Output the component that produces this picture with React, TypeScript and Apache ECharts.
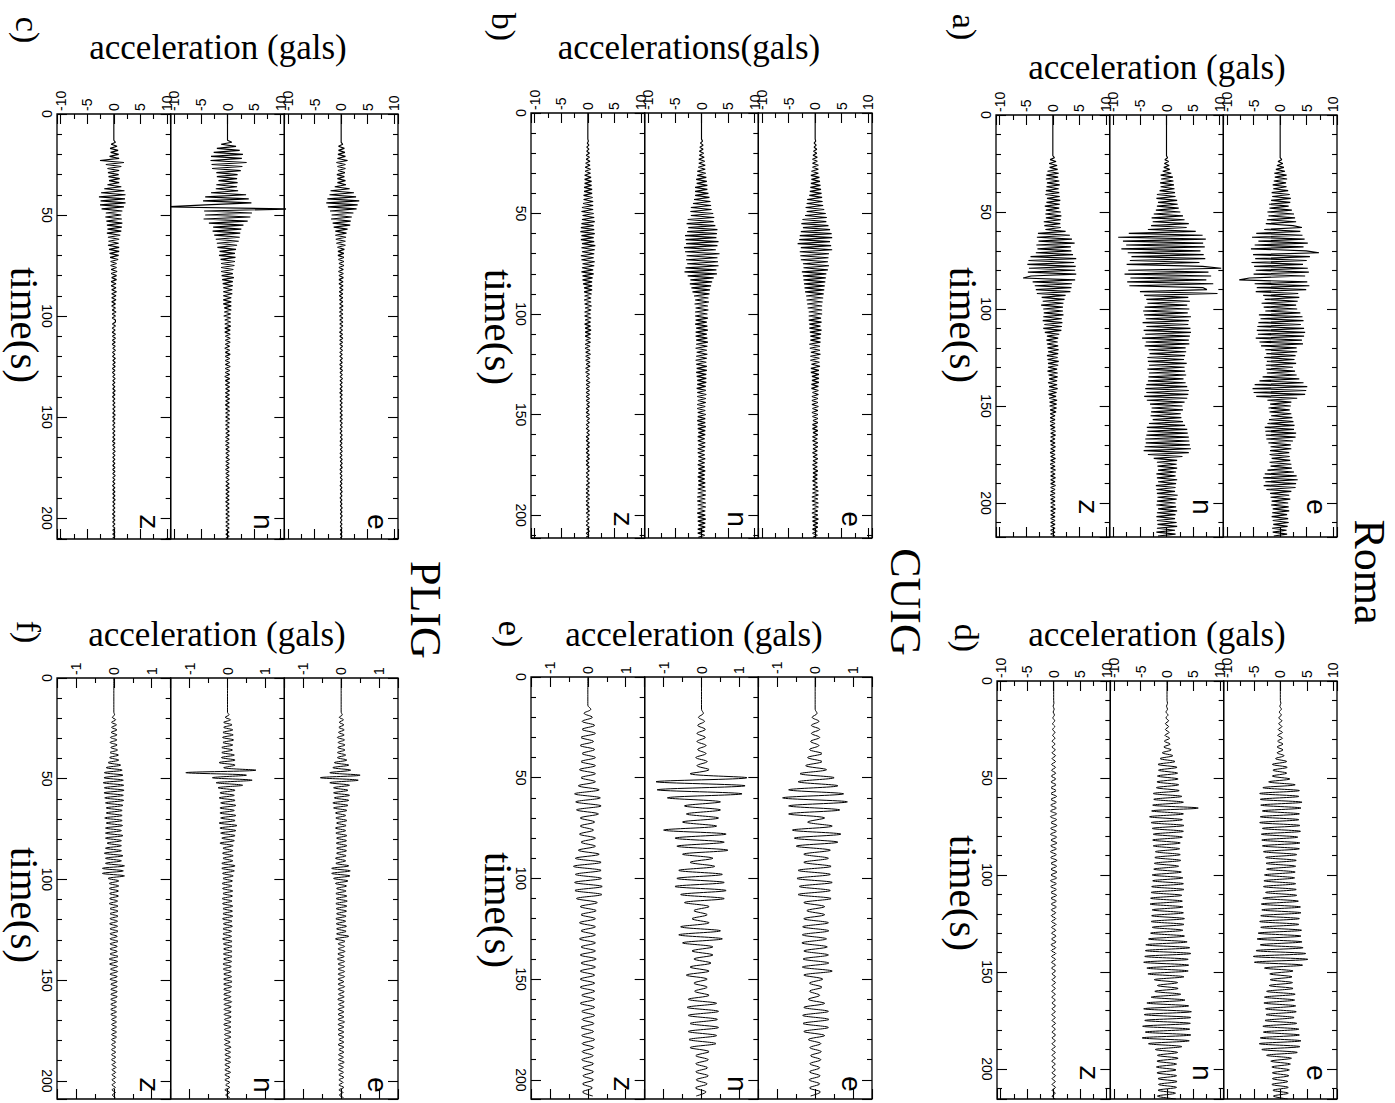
import React, { useEffect, useRef } from 'react';
import * as echarts from 'echarts';

// ---------------- labels / categories ----------------
const channels = ['z', 'n', 'e'];
const panelLetters = ['a)', 'b)', 'c)', 'd)', 'e)', 'f)'];
const panelTitles = ['acceleration (gals)', 'accelerations(gals)', 'acceleration (gals)', 'acceleration (gals)', 'acceleration (gals)', 'acceleration (gals)'];
const stations = ['Roma', 'CUIG', 'PLIG'];
const timeTickLabels = [0, 50, 100, 150, 200];
const accTickLabelsLarge = [-10, -5, 0, 5, 10];
const accTickLabelsSmall = [-1, 0, 1];

// axis ranges (time in s, acceleration in gals)
const timeMax = [217.5, 211.4, 210.4, 215.5, 209.5, 209];
const accMax = [10.7, 10.7, 10.7, 10.7, 1.5, 1.5];
const accMajor = [5, 5, 5, 5, 1, 1];

// onset time of each trace (z, n, e) and sample step (s)
const onsetA = [20, 20, 20];
const onsetB = [12, 12, 12];
const onsetC = [13, 13, 13];
const onsetD = [10, 10, 10];
const onsetE = [14, 16, 16];
const onsetF = [17, 17, 17];
const sampleSteps = [1, 1, 1, 1.5, 2, 1.25];

// ---------------- panel a (Roma) ----------------
const aE = [
0,0,0,0.3,-0.4,0.5,-0.6,0.7,-0.8,0.9,
-1.1,1.2,-1,1.3,-1.2,1.1,-1.4,1.2,-1.3,1.5,
-1.6,1.8,-1.5,2,-1.7,1.9,-2.1,1.6,-2,2.2,
-2.4,2.6,-2.2,2.8,-2.5,3,-2.7,2.4,4.1,-3,
3.8,-4.5,4.2,-5.3,4.6,-4.1,5.2,-4.8,4.4,-5.5,
4.9,7.3,-5.1,5.6,-4.7,5,-5.4,4.3,-4.9,5.2,
-4.6,5.4,-5,4.7,-5.8,-7.7,5.1,-4.8,5.5,-4.4,
4.9,-4.6,3.4,-3.2,3.6,-2.9,3.3,-3.5,3,-3.1,
3.2,-2.8,3.8,-4,4.2,-3.7,4.4,-4.1,3.9,-4.3,
4.5,-4.4,4.7,-4.2,4.5,-4.6,4.1,-3.9,4.3,-3.6,
3.1,-2.8,3.2,-2.6,2.9,-3,2.7,-2.5,3,-2.7,
2.4,-2.6,2.8,-2.5,3.1,-3.3,3.6,-3.9,4.4,-4.8,
5.1,-5.2,4.9,-5,4.7,-4.5,3.2,-2.4,2.1,-1.9,
2,-2.2,1.8,-2,2.1,-1.7,2.3,-2.1,2.5,-2.4,
2.7,-2.9,2.6,-2.8,3,-2.7,2.9,-2.6,2.4,-2.2,
2,-1.8,2.1,-1.9,1.7,-2,1.8,-1.6,1.9,-2,
2.1,-1.8,2.2,-2.4,2.6,-2.9,3.1,-3.2,3.3,-2.8,
3,-3.1,2.9,-2.6,2.1,-1.9,1.7,-1.8,1.9,-1.6,
1.5,-1.7,1.6,-1.4,1.7,-1.5,1.3,-1.6,1.5,-1.4,
1.6,-1.3,1.4,-1.5,1.2,-1.4,1.3,-1.2
];
const aN = [
0,0,0.2,-0.3,0.4,-0.4,0.5,-0.5,0.6,-0.7,
0.9,-1.1,1.2,-1,1.3,-1.2,1.4,-1.1,1.5,-1.3,
1.6,-1.8,1.7,-1.9,2,-1.6,2.1,-1.8,2.3,-2,
2.6,-2.4,3.1,-2.8,3.4,-2.6,4.2,-2.9,3.8,-3.5,
5.5,-7.1,6.8,-9.1,7.4,-8.2,6.9,-7.6,7.2,-8.5,
6.4,-7.3,7,-6.6,7.3,-6.9,6.2,-7.5,6.8,10.3,
-7.2,7.9,-7.9,8.4,-6.8,7.5,-7.4,8.8,-7,6.9,
7.6,-5,9.6,-4.2,4.1,-3.8,4.4,-3.6,3.9,-4.1,
4.3,-4.4,4,-4.2,4.6,-3.9,4.2,-4.5,4.1,-3.8,
4.5,-4.3,4.6,-4,4.4,-4.6,4.2,-3.9,4.3,-4.1,
3.6,-3.4,3.7,-3.2,3.5,-3.6,3.3,-3.5,3.8,-3.3,
3.4,-3.6,3.5,-3.3,3.7,-3.4,3.2,-3.5,3.6,-3.8,
3.9,-4,4.2,-3.8,4.1,-4.2,3.9,-3.7,3.4,-3.1,
3,-2.8,3.1,-2.9,2.7,-3,2.8,-2.6,3.1,-3.3,
3.5,-3.7,3.9,-3.6,4,-3.8,4.2,-4,4.3,-3.9,
4.4,-4.1,4.6,-4.3,4.2,-3.5,3,-2.4,2,-1.8,
1.9,-1.7,2,-1.6,1.8,-1.9,1.7,-1.8,2,-1.6,
1.8,-2,1.7,-1.9,1.6,-1.8,2.1,-1.7,1.9,-1.8,
1.7,-1.9,1.8,-1.6,2,-1.8,1.7,-1.9,1.6,-1.8,
1.9,-1.7,2,-1.8,1.6,-1.9,1.7,-1.6
];
const aZ = [
0,0,0.3,-0.5,0.6,-0.7,0.8,-0.6,0.9,-1,
1.1,-1.2,1,-1.3,1.2,-1.1,1.3,-1.2,1.1,-1.3,
1.2,-1.4,1.3,-1.1,1.4,-1.2,1.3,-1.5,1.2,-1.3,
1.5,-1.4,1.6,-1.3,1.5,-1.7,1.4,-1.6,1.5,-1.4,
2.4,-2.8,3.2,-3,3.6,-2.7,4.1,-3.1,3.4,-2.9,
3.5,-3.2,3.8,-4.2,4.4,-4.6,4,-4.8,4.3,-4.5,
4.2,-4.7,4.4,-4.1,-5.6,4.2,-3.8,3.6,-3.4,3.5,
-3.2,3.3,-3,2.4,-2.1,2.2,-1.9,2,-2.2,1.9,
-1.8,1.9,-1.7,2,-1.8,1.7,-1.9,1.8,-1.6,1.7,
-1.8,1.6,-1.5,1.2,-1.1,1,-1.2,0.9,-1.1,1,
-1,1.1,-0.9,1,-1.1,0.9,-1,1.1,-0.9,1,
-0.9,0.8,-1,0.9,-0.8,0.9,-0.7,0.8,-0.9,0.8,
-0.7,0.9,-0.8,0.7,-0.8,0.6,-0.7,0.8,-0.6,0.7,
-0.6,0.7,-0.5,0.6,-0.5,0.4,-0.5,0.4,-0.5,0.4,
-0.5,0.4,-0.4,0.5,-0.4,0.5,-0.4,0.4,-0.5,0.4,
-0.4,0.5,-0.4,0.4,-0.5,0.4,-0.4,0.5,-0.4,0.4,
-0.5,0.4,-0.4,0.5,-0.4,0.4,-0.4,0.5,-0.4,0.4,
-0.4,0.5,-0.4,0.4,-0.4,0.4,-0.5,0.4,-0.4,0.4,
-0.4,0.4,-0.4,0.5,-0.4,0.4,-0.4,0.4,-0.4,0.4,
-0.4,0.4,-0.4,0.4,-0.4,0.4,-0.4,0.4
];

// ---------------- panel b (CUIG) ----------------
const bE = [
0,0,0.1,-0.2,0.2,-0.2,0.3,-0.3,0.3,-0.4,
0.4,-0.5,0.4,-0.5,0.6,-0.5,0.6,-0.7,0.6,-0.8,
0.8,-0.7,0.9,-0.8,1,-0.9,1.1,-1,1.2,-1.1,
1.3,-1.5,1.4,-1.6,1.5,-1.8,1.7,-1.6,2,-1.9,
2.2,-2.4,2.1,-2.6,2.5,-2.3,2.8,-2.7,3.1,-2.9,
3.2,-3,2.8,-3.3,3,-2.7,3.2,-2.9,2.6,-2.8,
2.5,-2.7,2.4,-2.3,2.6,-2.2,2.4,-2.5,2.1,-2.3,
2,-2.2,1.9,-2.1,1.8,-2,1.7,-1.9,1.6,-1.7,
1.5,-1.6,1.4,-1.5,1.3,-1.4,1.3,-1.2,1.3,-1.2,
1.1,-1.2,1.2,-1.1,1,-1.1,1.2,-1,1.1,-0.9,
1,-0.9,1,-1.1,0.9,-1,0.9,-0.8,1,-0.9,
0.8,-0.9,0.8,-0.7,0.9,-0.8,0.7,-0.8,0.7,-0.6,
0.7,-0.6,0.7,-0.7,0.6,-0.7,0.6,-0.5,0.6,-0.6,
0.5,-0.6,0.5,-0.6,0.6,-0.5,0.5,-0.6,0.5,-0.5,
0.5,-0.4,0.5,-0.5,0.4,-0.5,0.5,-0.4,0.5,-0.5,
0.4,-0.5,0.5,-0.4,0.5,-0.4,0.4,-0.5,0.4,-0.4,
0.5,-0.4,0.4,-0.5,0.4,-0.4,0.5,-0.4,0.4,-0.4,
0.4,-0.5,0.4,-0.4,0.5,-0.5,0.6,-0.5,0.6,-0.6,
0.5,-0.6,0.6,-0.5,0.6,-0.5,0.5,-0.6,0.5,-0.5,
0.6,-0.5,0.5,-0.4,0.5,-0.5,0.4,-0.5,0.4,-0.4
];
const bN = [
0,0,0.2,-0.2,0.3,-0.3,0.3,-0.4,0.4,-0.4,
0.5,-0.5,0.6,-0.5,0.7,-0.6,0.7,-0.8,0.8,-0.8,
0.9,-1,1,-0.9,1.1,-1.2,1.1,-1.2,1.3,-1.2,
1.5,-1.4,1.7,-1.6,1.8,-2,1.9,-2.1,2.2,-2,
2.4,-2.6,2.3,-2.8,2.6,-2.5,3,-2.7,2.9,-3.1,
2.8,-3,3.2,-2.9,3,-3.3,2.7,-3.1,3.4,-2.8,
3,-2.9,3.1,-2.7,3.2,-3,2.8,-3.2,2.9,-2.6,
2.3,-2.1,2,-2.2,1.8,-1.9,1.6,-1.7,1.5,-1.4,
1.3,-1.2,1.4,-1.3,1.2,-1.1,1.3,-1.2,1.1,-1.2,
1.2,-1.1,1,-1.2,1.1,-1,1.2,-1.1,1,-1.1,
1.1,-1,1.2,-1,1.1,-1.1,1,-0.9,1.1,-1,
1,-1.1,0.9,-1,1,-0.9,1,-1,0.9,-0.9,
0.9,-0.8,0.9,-0.8,0.8,-0.9,0.8,-0.8,0.9,-0.8,
0.8,-0.7,0.8,-0.8,0.7,-0.8,0.7,-0.7,0.8,-0.7,
0.7,-0.8,0.7,-0.7,0.8,-0.7,0.7,-0.6,0.7,-0.7,
0.6,-0.7,0.7,-0.6,0.7,-0.7,0.6,-0.7,0.6,-0.6,
0.7,-0.6,0.6,-0.7,0.6,-0.6,0.7,-0.6,0.6,-0.7,
0.6,-0.6,0.7,-0.6,0.7,-0.7,0.8,-0.7,0.8,-0.8,
0.7,-0.8,0.8,-0.7,0.8,-0.7,0.7,-0.8,0.7,-0.7,
0.8,-0.7,0.7,-0.6,0.7,-0.7,0.6,-0.7,0.6,-0.6
];
const bZ = [
0,0,0.1,-0.1,0.2,-0.2,0.2,-0.2,0.3,-0.3,
0.3,-0.3,0.4,-0.4,0.4,-0.5,0.5,-0.5,0.5,-0.6,
0.6,-0.6,0.7,-0.6,0.7,-0.7,0.8,-0.7,0.8,-0.8,
0.9,-0.8,1,-0.9,1,-1.1,1,-1.2,1.1,-1,
1.2,-1.1,1.3,-1.2,1.1,-1.3,1.2,-1.4,1.3,-1.2,
1.1,-1.3,1.2,-1.1,1.4,-1.2,1.3,-1.1,1.2,-1.3,
1.1,-1.2,1.3,-1,1.2,-1.1,1,-1.2,1.1,-1,
0.9,-1,0.8,-0.9,0.8,-0.7,0.8,-0.7,0.7,-0.6,
0.6,-0.7,0.6,-0.6,0.7,-0.5,0.6,-0.6,0.5,-0.6,
0.6,-0.5,0.5,-0.6,0.5,-0.5,0.6,-0.5,0.5,-0.5,
0.5,-0.4,0.5,-0.5,0.4,-0.5,0.4,-0.4,0.5,-0.4,
0.4,-0.4,0.4,-0.3,0.4,-0.4,0.3,-0.4,0.3,-0.3,
0.3,-0.3,0.4,-0.3,0.3,-0.3,0.3,-0.3,0.3,-0.3,
0.3,-0.3,0.3,-0.2,0.3,-0.3,0.2,-0.3,0.3,-0.3,
0.3,-0.2,0.3,-0.3,0.2,-0.3,0.3,-0.2,0.3,-0.3,
0.2,-0.3,0.3,-0.2,0.3,-0.3,0.2,-0.3,0.3,-0.2,
0.3,-0.3,0.2,-0.3,0.3,-0.2,0.3,-0.3,0.2,-0.3,
0.3,-0.2,0.3,-0.3,0.3,-0.3,0.2,-0.3,0.3,-0.3,
0.3,-0.3,0.2,-0.3,0.3,-0.2,0.3,-0.3,0.3,-0.2,
0.3,-0.3,0.2,-0.3,0.3,-0.2,0.3,-0.3,0.2,-0.3
];

// ---------------- panel c (PLIG) ----------------
const cZ = [
0,0.3,-0.5,0.6,-0.7,0.8,-0.6,0.9,-0.8,1,
-2.6,1.9,-1.5,1.4,-1.2,1,-1.1,0.9,-1,1.1,
-0.9,1,-1.2,1.4,-1.8,2,-2.4,2.2,-2.8,2.1,
-2.5,2.2,-2.6,1.9,-2.3,1.6,-1.5,1.4,-1.6,1.5,
-1.4,1.6,-1.3,1.5,-1.2,1.4,-1.3,1.2,-1.1,1,
-1,0.9,-1.1,1,-0.9,1,-0.8,0.9,-0.7,0.8,
-0.6,0.5,-0.6,0.5,-0.5,0.6,-0.5,0.5,-0.4,0.5,
-0.5,0.4,-0.5,0.4,-0.4,0.5,-0.4,0.4,-0.4,0.4,
-0.4,0.3,-0.4,0.3,-0.3,0.4,-0.3,0.3,-0.3,0.3,
0.3,-0.25,0.3,-0.3,0.25,-0.3,0.3,-0.25,0.3,-0.25,
0.25,-0.3,0.25,-0.2,0.3,-0.25,0.2,-0.25,0.3,-0.2,
0.25,-0.2,0.25,-0.25,0.2,-0.25,0.2,-0.2,0.25,-0.2,
0.2,-0.25,0.2,-0.2,0.25,-0.2,0.2,-0.25,0.2,-0.2,
0.2,-0.2,0.25,-0.2,0.2,-0.2,0.25,-0.2,0.2,-0.2,
0.2,-0.2,0.2,-0.25,0.2,-0.2,0.2,-0.2,0.2,-0.25,
0.2,-0.2,0.2,-0.2,0.25,-0.2,0.2,-0.2,0.2,-0.2,
0.2,-0.2,0.2,-0.2,0.2,-0.2,0.25,-0.2,0.2,-0.2,
0.2,-0.25,0.2,-0.2,0.2,-0.2,0.2,-0.2,0.25,-0.2,
0.2,-0.2,0.2,-0.2,0.2,-0.25,0.2,-0.2,0.2,-0.2,
0.2,-0.2,0.2,-0.2,0.2,-0.2,0.2,-0.2
];
const cN = [
0,0.8,-1.2,1.6,-2,2.3,-2.6,2.9,-3.1,2.7,
-3.2,3.6,-3,2.8,-2.9,2.5,-2.1,1.9,-2,1.8,
-1.7,1.9,-2.1,1.8,-2.2,2,-3.1,3.5,-4.2,4,
-4.6,4.5,-4.1,-12,12,-4.4,4.6,-4.2,4.3,-4.5,
3.8,-3.5,3,-2.7,2.6,-2.8,2.4,-2.5,2.3,-2.2,
2.1,-2,1.8,-1.9,1.6,-1.5,1.4,-1.6,1.5,-1.3,
1.4,-1.2,1.3,-1.2,1.1,-1.2,1,-1.1,1.2,-1,
1,-0.9,1,-0.8,0.9,-0.8,0.9,-0.8,0.7,-0.8,
0.7,-0.8,0.7,-0.6,0.7,-0.6,0.6,-0.7,0.6,-0.5,
0.6,-0.5,0.6,-0.5,0.5,-0.5,0.5,-0.4,0.5,-0.4,
0.5,-0.4,0.4,-0.5,0.4,-0.4,0.5,-0.4,0.4,-0.4,
0.4,-0.4,0.5,-0.4,0.4,-0.4,0.4,-0.5,0.4,-0.4,
0.4,-0.4,0.4,-0.35,0.4,-0.4,0.35,-0.4,0.4,-0.35,
0.35,-0.4,0.35,-0.35,0.4,-0.35,0.35,-0.35,0.4,-0.35,
0.35,-0.35,0.3,-0.35,0.35,-0.3,0.35,-0.35,0.3,-0.35,
0.3,-0.35,0.3,-0.3,0.35,-0.3,0.3,-0.3,0.35,-0.3,
0.3,-0.3,0.3,-0.35,0.3,-0.3,0.3,-0.3,0.3,-0.3,
0.3,-0.3,0.35,-0.3,0.3,-0.3,0.3,-0.3,0.3,-0.35,
0.3,-0.3,0.3,-0.3,0.3,-0.3,0.35,-0.3,0.3,-0.3,
0.3,-0.3,0.3,-0.3,0.3,-0.3,0.3,-0.3
];
const cE = [
0,0,0.3,-0.5,0.6,-0.5,0.7,-0.6,0.8,-0.7,
1.2,-0.9,0.8,-0.7,0.8,-0.6,0.7,-0.8,0.6,-0.7,
0.8,-0.7,0.9,-1.2,1.6,-2,2.4,-2.2,2.8,-2.6,
3.4,-2.8,3.1,-2.5,2.9,-2.1,2.3,-1.8,2,-1.9,
1.8,-1.6,1.7,-1.4,1.2,-1.1,1,-1.1,0.9,-1,
0.8,-0.9,0.8,-0.7,0.6,-0.6,0.5,-0.6,0.5,-0.5,
0.5,-0.4,0.5,-0.4,0.4,-0.5,0.4,-0.4,0.4,-0.4,
0.35,-0.4,0.35,-0.3,0.35,-0.35,0.3,-0.35,0.3,-0.3,
0.3,-0.3,0.35,-0.3,0.3,-0.3,0.3,-0.3,0.3,-0.25,
0.3,-0.25,0.3,-0.25,0.25,-0.3,0.25,-0.25,0.3,-0.25,
0.25,-0.25,0.25,-0.2,0.25,-0.25,0.2,-0.25,0.25,-0.2,
0.2,-0.25,0.2,-0.2,0.25,-0.2,0.2,-0.2,0.25,-0.2,
0.2,-0.2,0.2,-0.2,0.2,-0.25,0.2,-0.2,0.2,-0.2,
0.2,-0.2,0.2,-0.2,0.2,-0.2,0.2,-0.2,0.2,-0.2,
0.2,-0.15,0.2,-0.2,0.15,-0.2,0.2,-0.15,0.2,-0.2,
0.15,-0.2,0.2,-0.15,0.2,-0.2,0.15,-0.2,0.2,-0.15,
0.2,-0.15,0.2,-0.2,0.15,-0.2,0.15,-0.15,0.2,-0.15,
0.15,-0.2,0.15,-0.15,0.2,-0.15,0.15,-0.2,0.15,-0.15,
0.15,-0.15,0.2,-0.15,0.15,-0.15,0.2,-0.15,0.15,-0.15,
0.15,-0.15,0.15,-0.15,0.15,-0.15,0.15,-0.15
];

// ---------------- panel d (Roma, filtered) ----------------
const dE = [
0,0.1,-0.1,0.2,-0.2,0.2,-0.3,0.3,-0.3,0.3,
-0.4,0.4,-0.5,0.4,-0.5,0.5,-0.6,0.5,-0.6,0.7,
-0.9,1.2,-1.5,1.3,-1.4,1.2,-1.5,1.8,-2.2,2.8,
-3.3,3.6,-3.9,3.5,-3.8,4.1,-3.7,3.9,-3.4,3.6,
-3.8,3.5,-3.9,3.7,-3.4,3.8,-3.6,3.3,-3.5,3.7,
-3.4,3.6,-3.2,3.1,-2.8,3,-2.7,2.9,-2.6,2.8,
-3,2.7,-3.1,2.9,-3.2,3,-2.8,3.1,-3.3,3.4,
-3.6,3.8,-3.5,3.9,-3.7,3.6,-3.9,3.5,-3.7,4,
-4.2,3.9,-4.4,4.1,-3.8,4.3,-4.6,4.8,-5.1,5.2,
-4.9,4.2,-3,2.4,-2,2.2,-1.9,2.3,-2.1,2.4,
-2.6,2.8,-3,2.7,-3.1,2.9,-2.8,3,-2.7,2.6,
-2.9,3.1,-3.3,3.5,-3.2,3.6,-3.8,3.9,-4,3.7,
-3.5,3.2,-2.6,2.1,-1.8,1.9,-1.6,1.7,-1.5,1.6,
-1.5,1.4,-1.6,1.5,-1.4,1.5,-1.3,1.4
];
const dN = [
0,0.1,-0.1,0.1,-0.2,0.2,-0.2,0.3,-0.3,0.3,
-0.3,0.4,-0.4,0.5,-0.5,0.6,-0.6,0.8,-0.9,1.1,
-1.3,1.5,-1.7,1.9,-1.6,2,-1.8,2.1,-1.9,2.2,
-2,2.3,-2.6,2.8,-2.5,3.1,-2.7,5.9,-2.9,3.1,
-3.3,2.9,-3,3.2,-2.8,3.1,-2.6,2.9,-2.7,2.5,
-2.6,2.4,-2.2,2.5,-2.3,2.6,-2.4,2.2,-2.5,2.7,
-2.8,3,-2.7,3.1,-2.9,3.2,-3,2.8,-3.1,2.9,
-3.2,3,-2.8,3.1,-2.9,3.3,-3,3.2,-2.8,3,
-3.1,3.3,-3.5,3.8,-4,4.3,-4.1,4.5,-4.2,4,
-4.4,4.1,-3.8,4,-3.6,3.2,-2.4,2,-1.8,2.1,
-2.3,2.6,-3,3.4,-3.8,4.1,-4.4,4.6,-4.3,4.5,
-4.2,4.4,-4.6,4.3,-4.1,4.5,-4.7,4.2,-3.5,2.8,
-2.2,2,-1.8,2.1,-1.9,1.8,-2,1.7,-1.9,1.8,
-1.7,1.9,-1.6,1.8,-1.7,1.6,-1.8,1.7
];
const dZ = [
0,0.05,-0.1,0.1,-0.1,0.15,-0.15,0.2,-0.2,0.2,
-0.2,0.25,-0.2,0.25,-0.3,0.25,-0.3,0.3,-0.3,0.35,
-0.3,0.35,-0.4,0.35,-0.4,0.4,-0.45,0.4,-0.5,0.45,
-0.5,0.45,-0.5,0.55,-0.5,0.5,-0.55,0.5,-0.6,0.55,
-0.6,0.55,-0.5,0.6,-0.55,0.5,-0.6,0.55,-0.5,0.6,
-0.55,0.5,-0.6,0.5,-0.55,0.6,-0.5,0.55,-0.5,0.6,
-0.5,0.55,-0.6,0.5,-0.55,0.5,-0.5,0.55,-0.5,0.5,
-0.45,0.5,-0.45,0.4,-0.45,0.4,-0.4,0.45,-0.4,0.4,
-0.4,0.45,-0.4,0.45,-0.5,0.4,-0.45,0.4,-0.4,0.35,
-0.4,0.35,-0.4,0.35,-0.3,0.35,-0.3,0.35,-0.3,0.3,
-0.35,0.3,-0.35,0.3,-0.3,0.35,-0.3,0.3,-0.35,0.3,
-0.3,0.35,-0.3,0.3,-0.3,0.35,-0.3,0.3,-0.3,0.3,
-0.35,0.3,-0.3,0.3,-0.35,0.3,-0.3,0.3,-0.3,0.35,
-0.3,0.3,-0.3,0.35,-0.3,0.3,-0.3,0.3
];

// ---------------- panel e (CUIG, filtered) ----------------
const eE = [
0,0.05,-0.08,0.1,-0.1,0.12,-0.1,0.12,-0.12,0.1,
-0.15,0.18,-0.2,0.18,-0.25,0.3,-0.4,0.5,-0.45,0.6,
-0.7,0.75,-0.86,0.85,-0.7,0.65,-0.7,0.25,-0.2,0.45,
-0.6,0.68,-0.55,0.6,-0.5,0.4,-0.3,0.35,-0.3,0.42,
-0.45,0.4,-0.48,0.45,-0.42,0.4,-0.45,0.42,-0.3,0.25,
-0.22,0.25,-0.3,0.35,-0.33,0.36,-0.34,0.3,-0.35,0.32,
-0.3,0.35,-0.32,0.36,-0.34,0.45,-0.3,0.2,-0.15,0.18,
-0.15,0.12,-0.18,0.25,-0.3,0.35,-0.33,0.36,-0.32,0.35,
-0.3,0.25,-0.18,0.15,-0.14,0.16,-0.12,0.15,-0.14,0.12,
-0.15,0.13,-0.16,0.12,-0.15,0.14,-0.12
];
const eN = [
0,0.05,-0.08,0.08,-0.1,0.1,-0.12,0.1,-0.12,0.12,
-0.1,0.12,-0.15,0.15,-0.12,0.2,-0.3,1.2,-1.2,1.15,
-1.17,1.07,-0.9,0.5,-0.45,0.5,-0.4,0.45,-0.5,0.4,
-1,0.65,-0.7,0.6,-0.65,0.7,-0.5,0.3,-0.3,0.35,
-0.6,0.55,-0.65,0.6,-0.7,0.65,-0.55,0.6,-0.45,0.2,
-0.2,0.15,-0.25,0.2,-0.55,0.5,-0.6,0.55,-0.5,0.3,
-0.25,0.3,-0.2,0.25,-0.3,0.2,-0.4,0.15,-0.2,0.15,
-0.18,0.2,-0.35,0.4,-0.38,0.45,-0.35,0.42,-0.3,0.45,
-0.35,0.4,-0.33,0.38,-0.3,0.2,-0.15,0.18,-0.15,0.16,
-0.15,0.18,-0.14,0.15,-0.16,0.12,-0.14
];
const eZ = [
0,0.08,-0.1,0.12,-0.15,0.18,-0.15,0.2,-0.18,0.15,
-0.2,0.18,-0.15,0.2,-0.18,0.2,-0.22,0.2,-0.18,0.2,
-0.25,0.3,-0.35,0.33,-0.32,0.35,-0.3,0.28,-0.2,0.18,
-0.2,0.15,-0.22,0.2,-0.18,0.2,-0.25,0.3,-0.33,0.35,
-0.38,0.35,-0.33,0.36,-0.35,0.38,-0.34,0.37,-0.3,0.25,
-0.2,0.22,-0.18,0.2,-0.22,0.2,-0.18,0.2,-0.22,0.2,
-0.18,0.2,-0.2,0.22,-0.18,0.2,-0.2,0.18,-0.2,0.18,
-0.2,0.18,-0.16,0.18,-0.2,0.18,-0.16,0.18,-0.15,0.16,
-0.18,0.15,-0.16,0.18,-0.15,0.16,-0.15,0.14,-0.16,0.15,
-0.14,0.15,-0.13,0.15,-0.14,0.12,-0.14,0.13
];

// ---------------- panel f (PLIG, filtered) ----------------
const fE = [
0,0.03,-0.05,0.06,-0.05,0.07,-0.06,0.08,
-0.07,0.08,-0.1,0.09,-0.08,0.1,-0.09,0.1,
-0.1,0.12,-0.1,0.15,-0.18,0.2,-0.22,0.25,
-0.3,0.5,-0.55,0.45,-0.3,0.22,-0.2,0.18,
-0.2,0.22,-0.18,0.2,-0.22,0.18,-0.2,0.15,
-0.15,0.12,-0.14,0.15,-0.12,0.13,-0.15,0.12,
-0.14,0.15,-0.12,0.14,-0.13,0.15,-0.12,0.14,
-0.12,0.13,-0.15,0.12,-0.14,0.2,-0.25,0.24,
-0.25,0.23,-0.2,0.18,-0.15,0.14,-0.12,0.13,
-0.14,0.15,-0.13,0.16,-0.14,0.15,-0.13,0.14,
-0.12,0.13,-0.14,0.12,-0.13,0.14,-0.12,0.13,
-0.12,0.2,-0.15,0.1,-0.08,0.09,-0.08,0.1,
-0.09,0.08,-0.1,0.09,-0.08,0.09,-0.08,0.09,
-0.08,0.09,-0.08,0.07,-0.08,0.09,-0.08,0.08,
-0.07,0.08,-0.09,0.08,-0.07,0.08,-0.08,0.07,
-0.08,0.07,-0.08,0.09,-0.08,0.07,-0.08,0.07,
-0.08,0.07,-0.06,0.07,-0.08,0.07,-0.06,0.07,
-0.07,0.06,-0.07,0.08,-0.07,0.06,-0.07,0.06,
-0.06,0.07,-0.06,0.05,-0.06,0.07,-0.06,0.05,
-0.05,0.06
];
const fN = [
0,0.04,-0.06,0.08,-0.1,0.12,-0.1,0.14,
-0.12,0.15,-0.13,0.16,-0.12,0.14,-0.15,0.13,
-0.15,0.18,-0.16,0.2,-0.22,0.2,-0.1,0.75,
-1.1,0.5,-0.4,0.65,-0.3,0.4,-0.25,0.2,
-0.2,0.18,-0.22,0.2,-0.18,0.22,-0.2,0.18,
-0.2,0.22,-0.18,0.2,-0.22,0.25,-0.2,0.22,
-0.18,0.2,-0.15,0.18,-0.2,0.15,-0.12,0.14,
-0.13,0.15,-0.12,0.14,-0.15,0.2,-0.15,0.18,
-0.13,0.15,-0.12,0.13,-0.14,0.12,-0.13,0.14,
-0.12,0.13,-0.14,0.12,-0.13,0.14,-0.12,0.13,
-0.12,0.14,-0.13,0.12,-0.11,0.13,-0.12,0.11,
-0.12,0.11,-0.13,0.12,-0.11,0.12,-0.1,0.12,
-0.11,0.12,-0.1,0.11,-0.12,0.1,-0.11,0.1,
-0.1,0.11,-0.1,0.12,-0.1,0.11,-0.1,0.09,
-0.1,0.09,-0.1,0.11,-0.09,0.1,-0.09,0.1,
-0.09,0.1,-0.08,0.09,-0.1,0.09,-0.08,0.09,
-0.08,0.09,-0.08,0.07,-0.08,0.09,-0.07,0.08,
-0.07,0.08,-0.07,0.08,-0.07,0.06,-0.07,0.08,
-0.07,0.06,-0.07,0.06,-0.05,0.06,-0.07,0.06,
-0.05,0.06
];
const fZ = [
0,0.02,-0.04,0.05,-0.06,0.07,-0.06,0.08,
-0.07,0.08,-0.09,0.08,-0.1,0.09,-0.08,0.1,
-0.1,0.12,-0.11,0.13,-0.15,0.18,-0.2,0.22,
-0.25,0.24,-0.26,0.25,-0.28,0.26,-0.25,0.27,
-0.26,0.25,-0.24,0.26,-0.22,0.24,-0.2,0.22,
-0.2,0.22,-0.24,0.22,-0.2,0.23,-0.22,0.2,
-0.22,0.24,-0.22,0.2,-0.18,0.2,-0.22,0.2,
-0.25,0.24,-0.22,0.2,-0.22,0.28,-0.3,0.25,
-0.3,0.28,-0.15,0.13,-0.12,0.13,-0.12,0.12,
-0.11,0.12,-0.11,0.1,-0.12,0.11,-0.1,0.11,
-0.1,0.11,-0.1,0.1,-0.11,0.1,-0.1,0.11,
-0.1,0.09,-0.1,0.11,-0.1,0.09,-0.1,0.09,
-0.1,0.11,-0.12,0.1,-0.11,0.1,-0.09,0.1,
-0.1,0.09,-0.1,0.09,-0.08,0.09,-0.08,0.09,
-0.08,0.09,-0.08,0.07,-0.08,0.07,-0.08,0.07,
-0.08,0.07,-0.06,0.07,-0.06,0.07,-0.06,0.07,
-0.06,0.07,-0.06,0.05,-0.06,0.05,-0.06,0.05,
-0.06,0.05,-0.06,0.05,-0.05,0.06,-0.05,0.05,
-0.05,0.05,-0.05,0.04,-0.05,0.04,-0.05,0.04,
-0.04,0.04
];

const panelTraces = [
  [aZ, aN, aE],
  [bZ, bN, bE],
  [cZ, cN, cE],
  [dZ, dN, dE],
  [eZ, eN, eE],
  [fZ, fN, fE],
];
const panelOnsets = [onsetA, onsetB, onsetC, onsetD, onsetE, onsetF];

// ---------------- layout (pixels) ----------------
const panelBoxes = [
  { left: 996, right: 1337, top: 115, bottom: 537 },
  { left: 531, right: 872, top: 113, bottom: 538 },
  { left: 57, right: 398, top: 114, bottom: 539 },
  { left: 997, right: 1337, top: 681, bottom: 1099 },
  { left: 531, right: 872, top: 677, bottom: 1099 },
  { left: 57, right: 398, top: 678, bottom: 1099 },
];
const titlePos = [[1157, 67], [689, 47], [218, 47], [1157, 634], [694, 634], [217, 634]];
const letterPos = [[964, 27], [503, 27], [27, 30], [966, 638], [510, 634], [28, 632]];
const timeTitlePos = [[964, 325], [499, 327], [25, 325], [964, 893], [499, 910], [25, 905]];
const stationPos = [[1369, 572], [905, 602], [425, 610]];
const smoothed = [false, false, false, true, true, true];
const traceWidth = [1.15, 1.15, 1.15, 1, 1, 1];

const FONT_SERIF = '"Liberation Serif", "Times New Roman", serif';
const FONT_SANS = '"Liberation Sans", Arial, sans-serif';

function traceData(values: number[], onset: number, dt: number) {
  const pts: number[][] = [[0, 0]];
  values.forEach((v, i) => pts.push([v, onset + i * dt]));
  return pts;
}

function buildOption() {
  const grid: any[] = [];
  const xAxis: any[] = [];
  const yAxis: any[] = [];
  const series: any[] = [];
  const graphic: any[] = [];
  const black = '#000';

  panelBoxes.forEach((box, p) => {
    const w = (box.right - box.left) / 3;
    const h = box.bottom - box.top;
    const pxPerSec = h / timeMax[p];
    const accLabels = accMajor[p] === 5 ? accTickLabelsLarge : accTickLabelsSmall;
    for (let i = 0; i < 3; i++) {
      const gi = grid.length;
      grid.push({
        left: box.left + i * w, top: box.top, width: w, height: h,
        show: true, borderColor: black, borderWidth: 1.3, backgroundColor: 'transparent',
        containLabel: false, outerBoundsMode: 'none',
      });
      const tickStyle = { color: black, width: 1.1 };
      const xCommon = {
        type: 'value', gridIndex: gi, min: -accMax[p], max: accMax[p],
        minInterval: accMajor[p], maxInterval: accMajor[p],
        splitLine: { show: false }, minorSplitLine: { show: false },
        axisLine: { show: false, onZero: false },
        axisTick: { show: true, inside: true, length: 10, lineStyle: tickStyle },
        minorTick: { show: true, splitNumber: 2, length: 5, lineStyle: tickStyle },
      };
      const xTop = xAxis.length;
      xAxis.push({
        ...xCommon, position: 'top',
        axisLabel: {
          show: true, rotate: -90, margin: 3, fontSize: 14, color: black, fontFamily: FONT_SANS,
          formatter: (v: number) => (accLabels.some((l) => Math.abs(l - v) < 1e-6) ? String(Math.round(v)) : ''),
        },
      });
      xAxis.push({ ...xCommon, position: 'bottom', axisLabel: { show: false } });

      const yCommon = {
        type: 'value', gridIndex: gi, min: 0, max: timeMax[p], inverse: true,
        minInterval: 50, maxInterval: 50,
        splitLine: { show: false }, minorSplitLine: { show: false },
        axisLine: { show: false, onZero: false },
        axisTick: { show: true, inside: true, length: 10, lineStyle: tickStyle },
        minorTick: { show: true, splitNumber: 5, length: 5, lineStyle: tickStyle },
      };
      const yMain = yAxis.length;
      if (i === 0) {
        yAxis.push({
          ...yCommon, position: 'left',
          axisLabel: {
            show: true, rotate: -90, margin: 3, fontSize: 14, color: black, fontFamily: FONT_SANS,
            formatter: (v: number) => (timeTickLabels.some((l) => Math.abs(l - v) < 1e-6) ? String(Math.round(v)) : ''),
          },
        });
      }
      yAxis.push({ ...yCommon, position: 'right', axisLabel: { show: false } });

      series.push({
        type: 'line', xAxisIndex: xTop, yAxisIndex: yMain,
        data: traceData(panelTraces[p][i], panelOnsets[p][i], sampleSteps[p]),
        showSymbol: false, symbol: 'none', silent: true,
        smooth: smoothed[p] ? 0.35 : false,
        lineStyle: { color: black, width: traceWidth[p] },
      });

      // channel letter
      graphic.push({
        type: 'text', x: box.left + (i + 1) * w - 23, y: box.top + 201 * pxPerSec + 2,
        rotation: -Math.PI / 2, silent: true,
        style: { text: channels[i], fontSize: 28, fontFamily: '"Liberation Mono", monospace', fill: black, align: 'center', verticalAlign: 'middle' },
      });
    }

    graphic.push({
      type: 'text', x: titlePos[p][0], y: titlePos[p][1], silent: true,
      style: { text: panelTitles[p], fontSize: 35, fontFamily: FONT_SERIF, fill: black, align: 'center', verticalAlign: 'middle' },
    });
    graphic.push({
      type: 'text', x: letterPos[p][0], y: letterPos[p][1], rotation: -Math.PI / 2, silent: true,
      style: { text: panelLetters[p], fontSize: 34, fontFamily: FONT_SERIF, fill: black, align: 'center', verticalAlign: 'middle' },
    });
    graphic.push({
      type: 'text', x: timeTitlePos[p][0], y: timeTitlePos[p][1], rotation: -Math.PI / 2, silent: true,
      style: { text: 'time(s)', fontSize: 41, fontFamily: FONT_SERIF, fill: black, align: 'center', verticalAlign: 'middle' },
    });
  });

  stations.forEach((s, k) => {
    graphic.push({
      type: 'text', x: stationPos[k][0], y: stationPos[k][1], rotation: -Math.PI / 2, silent: true,
      style: { text: s, fontSize: 44, fontFamily: FONT_SERIF, fill: black, align: 'center', verticalAlign: 'middle' },
    });
  });

  return {
    animation: false,
    backgroundColor: '#fff',
    grid, xAxis, yAxis, series, graphic,
  };
}

export default function App() {
  const ref = useRef<HTMLDivElement>(null);
  useEffect(() => {
    if (!ref.current) return;
    const chart = echarts.init(ref.current, null, { renderer: 'svg' });
    chart.setOption(buildOption() as any);
    return () => chart.dispose();
  }, []);
  return (
    <div
      ref={ref}
      style={{ position: 'absolute', left: 0, top: 0, width: 1395, height: 1103, background: '#fff' }}
    />
  );
}
